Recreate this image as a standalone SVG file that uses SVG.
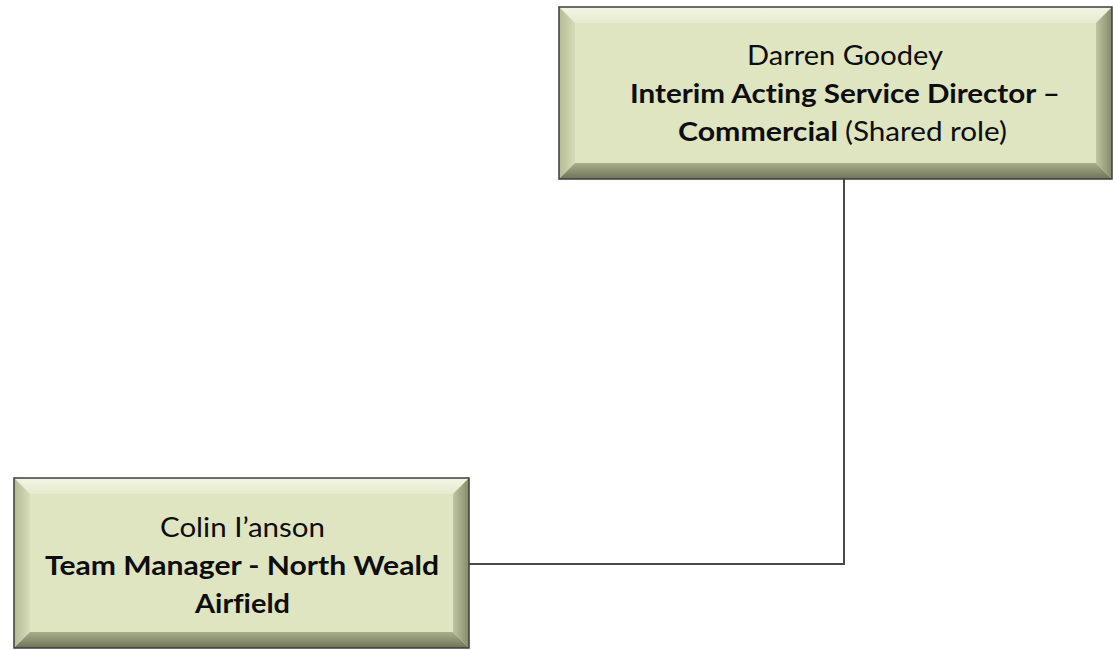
<svg xmlns="http://www.w3.org/2000/svg" width="1113" height="650" viewBox="0 0 1113 650">
  <defs>
    <!-- bevel shading for the raised boxes -->
    <linearGradient id="bevTop" x1="0" y1="0" x2="0" y2="1">
      <stop offset="0" stop-color="#f3f5e4"/>
      <stop offset="1" stop-color="#e6ebcf"/>
    </linearGradient>
    <linearGradient id="bevLeft" x1="0" y1="0" x2="1" y2="0">
      <stop offset="0" stop-color="#b5bb94"/>
      <stop offset="1" stop-color="#d6dcb8"/>
    </linearGradient>
    <linearGradient id="bevBottom" x1="0" y1="0" x2="0" y2="1">
      <stop offset="0" stop-color="#a9af8b"/>
      <stop offset="1" stop-color="#6e7359"/>
    </linearGradient>
    <linearGradient id="bevRight" x1="0" y1="0" x2="1" y2="0">
      <stop offset="0" stop-color="#bfc59f"/>
      <stop offset="1" stop-color="#848a6a"/>
    </linearGradient>
  </defs>
  <style>
    .face { fill: #dee5c0; }
    .edge { fill: none; stroke: #3d3d3d; stroke-width: 1.5; }
    .txt { font-family: Lato, "Liberation Sans", sans-serif; font-size: 27px; fill: #0d0d0d; font-variant-ligatures: none; }
    .b { font-weight: bold; }
    .link { fill: none; stroke: #4a4a4a; stroke-width: 2; }
  </style>

  <rect width="1113" height="650" fill="#ffffff"/>

  <g id="connectors">
    <polyline class="link" points="469,564 844,564 844,179"/>
  </g>

  <!-- Darren Goodey: box 559..1112 x 7..179, bevel 16 -->
  <g id="node-darren-goodey">
    <rect class="face" x="559" y="7" width="553" height="172"/>
    <polygon fill="url(#bevTop)" points="559,7 1112,7 1096,23 575,23"/>
    <polygon fill="url(#bevLeft)" points="559,7 575,23 575,163 559,179"/>
    <polygon fill="url(#bevBottom)" points="575,163 1096,163 1112,179 559,179"/>
    <polygon fill="url(#bevRight)" points="1096,23 1112,7 1112,179 1096,163"/>
    <rect class="face" x="575" y="23" width="521" height="140"/>
    <rect class="edge" x="559" y="7" width="553" height="172"/>
    <text class="txt" x="747" y="65" textLength="196" lengthAdjust="spacingAndGlyphs">Darren Goodey</text>
    <text class="txt b" x="630" y="103" textLength="430" lengthAdjust="spacingAndGlyphs">Interim Acting Service Director –</text>
    <text class="txt"><tspan class="b" x="678" y="141" textLength="160" lengthAdjust="spacingAndGlyphs">Commercial</tspan><tspan x="845" y="141" textLength="162" lengthAdjust="spacingAndGlyphs">(Shared role)</tspan></text>
  </g>

  <!-- Colin I'anson: box 14..469 x 478..648, bevel 16 -->
  <g id="node-colin-ianson">
    <rect class="face" x="14" y="478" width="455" height="170"/>
    <polygon fill="url(#bevTop)" points="14,478 469,478 453,494 30,494"/>
    <polygon fill="url(#bevLeft)" points="14,478 30,494 30,632 14,648"/>
    <polygon fill="url(#bevBottom)" points="30,632 453,632 469,648 14,648"/>
    <polygon fill="url(#bevRight)" points="453,494 469,478 469,648 453,632"/>
    <rect class="face" x="30" y="494" width="423" height="138"/>
    <rect class="edge" x="14" y="478" width="455" height="170"/>
    <text class="txt" x="160" y="537" textLength="165" lengthAdjust="spacingAndGlyphs">Colin I’anson</text>
    <text class="txt b" x="45" y="575" textLength="394" lengthAdjust="spacingAndGlyphs">Team Manager - North Weald</text>
    <text class="txt b" x="195" y="613" textLength="95" lengthAdjust="spacingAndGlyphs">Airfield</text>
  </g>
</svg>
